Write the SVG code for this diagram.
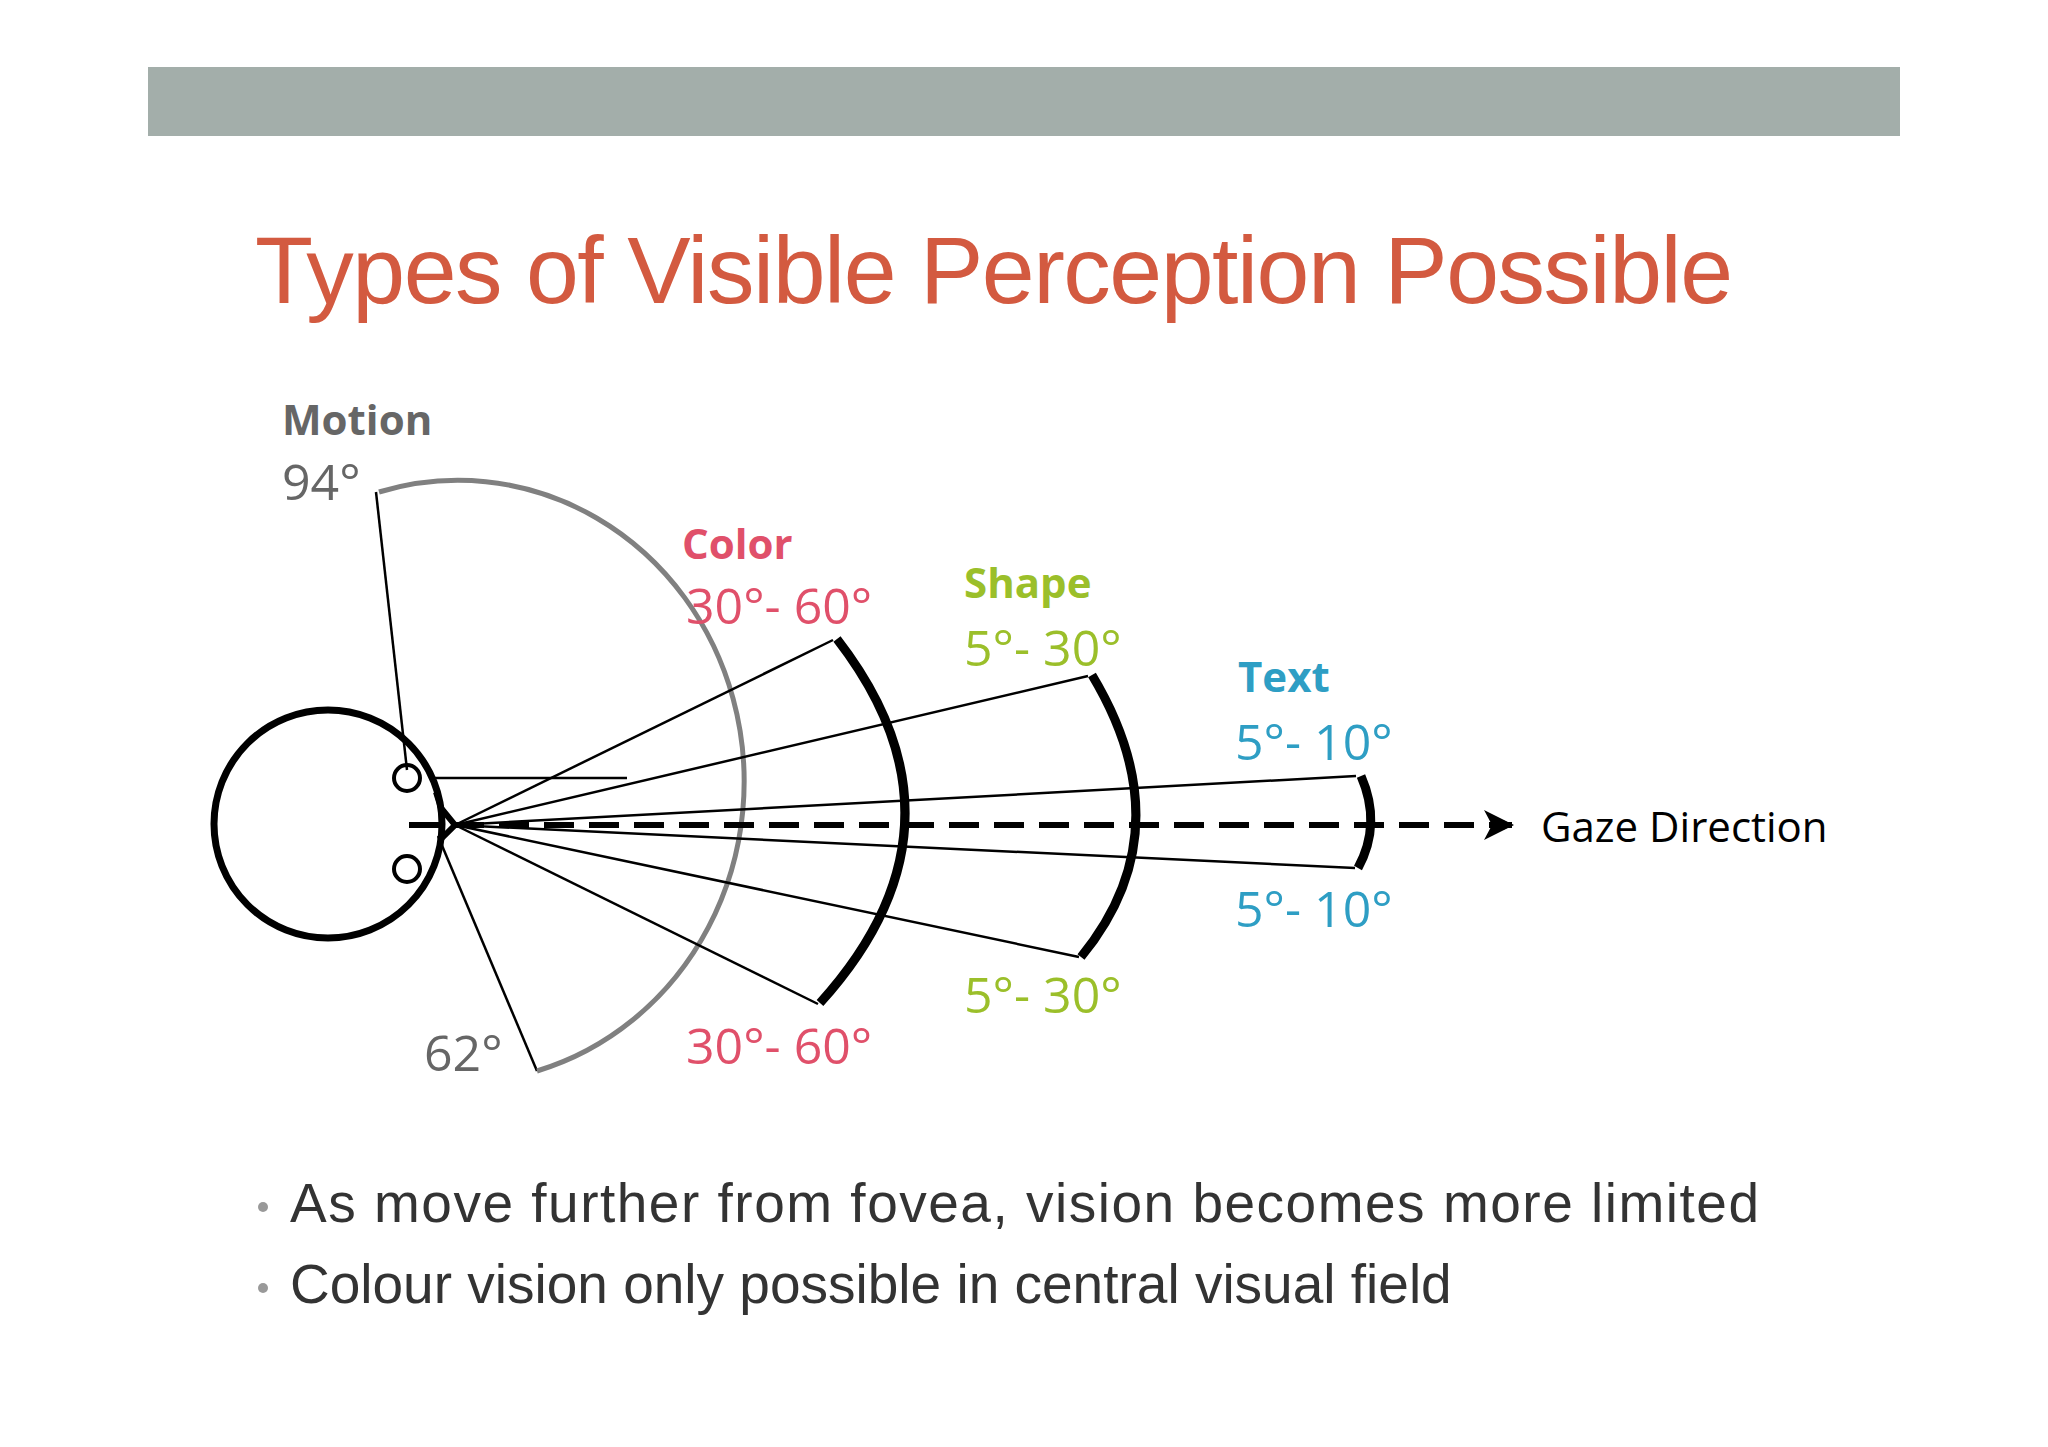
<svg xmlns="http://www.w3.org/2000/svg" width="2048" height="1447" viewBox="0 0 2048 1447">
<defs>
<marker id="arr" markerWidth="10" markerHeight="10" refX="9" refY="5" orient="auto" markerUnits="userSpaceOnUse" viewBox="0 0 10 10"><path d="M0,0 L10,5 L0,10 L3,5 Z" fill="#000"/></marker>
</defs>
<style>
.lbl{font-family:"Open Sans","DejaVu Sans",sans-serif}
.b{font-weight:bold;font-size:42px}
.n{font-size:50px}
.thin{stroke:#000;stroke-width:2.5;fill:none}
.thick{stroke:#000;stroke-width:9;fill:none}
</style>
<rect width="2048" height="1447" fill="#fff"/>
<rect x="148" y="67" width="1752" height="69" fill="#a3aeaa"/>
<text x="255" y="303" font-family="Liberation Sans, Arial, sans-serif" font-size="95" fill="#d35a40" textLength="1478">Types of Visible Perception Possible</text>

<g id="eye">
<circle cx="328" cy="824" r="114" fill="none" stroke="#000" stroke-width="7"/>
<path d="M436,792 L441,808 L455,825 L440,840" fill="none" stroke="#000" stroke-width="6"/>
<circle cx="407" cy="778" r="13" fill="none" stroke="#000" stroke-width="4"/>
<circle cx="407" cy="869" r="13" fill="none" stroke="#000" stroke-width="4"/>
</g>

<g id="connectors">
<line x1="431" y1="778" x2="627" y2="778" class="thin"/>
<line x1="376" y1="492" x2="407" y2="770" class="thin"/>
<line x1="537" y1="1071" x2="438" y2="836" class="thin"/>
<path d="M379,492 A285,300 0 0,1 537,1071" fill="none" stroke="#808080" stroke-width="5"/>
<line x1="455" y1="825" x2="833" y2="640" class="thin"/>
<line x1="455" y1="825" x2="818" y2="1004" class="thin"/>
<line x1="455" y1="825" x2="1088" y2="676" class="thin"/>
<line x1="455" y1="825" x2="1079" y2="957" class="thin"/>
<line x1="455" y1="825" x2="1356" y2="776" class="thin"/>
<line x1="455" y1="825" x2="1355" y2="868" class="thin"/>
<path d="M837,639 Q981,825 820,1003" class="thick"/>
<path d="M1092,675 Q1185,830 1081,957" class="thick"/>
<path d="M1361,776 Q1382,824 1358,868" class="thick"/>
<line x1="409" y1="825" x2="1512" y2="825" stroke="#000" stroke-width="6" stroke-dasharray="30,15" marker-end="url(#arr)"/>
<path d="M1484,810 L1514,825 L1484,840 L1492,825 Z" fill="#000"/>
</g>

<g id="motion">
<text x="282" y="435" class="lbl b" fill="#666">Motion</text>
<text x="282" y="500" class="lbl n" fill="#666">94°</text>
<text x="424" y="1071" class="lbl n" fill="#666">62°</text>
</g>
<g id="color">
<text x="682" y="559" class="lbl b" fill="#e0506a">Color</text>
<text x="686" y="624" class="lbl n" fill="#e0506a">30°- 60°</text>
<text x="686" y="1064" class="lbl n" fill="#e0506a">30°- 60°</text>
</g>
<g id="shape">
<text x="964" y="598" class="lbl b" fill="#9bbf2a">Shape</text>
<text x="964" y="666" class="lbl n" fill="#9bbf2a">5°- 30°</text>
<text x="964" y="1013" class="lbl n" fill="#9bbf2a">5°- 30°</text>
</g>
<g id="text">
<text x="1238" y="692" class="lbl b" fill="#2e9ec4">Text</text>
<text x="1235" y="760" class="lbl n" fill="#2e9ec4">5°- 10°</text>
<text x="1235" y="927" class="lbl n" fill="#2e9ec4">5°- 10°</text>
</g>
<g id="gaze">
<text x="1541" y="842" class="lbl" font-size="42" fill="#000">Gaze Direction</text>
</g>

<g id="bullets" font-family="Liberation Sans, Arial, sans-serif" font-size="55" fill="#333">
<circle cx="263" cy="1207" r="5" fill="#999"/>
<text x="290" y="1222" textLength="1469">As move further from fovea, vision becomes more limited</text>
<circle cx="263" cy="1288" r="5" fill="#999"/>
<text x="290" y="1303">Colour vision only possible in central visual field</text>
</g>
</svg>
